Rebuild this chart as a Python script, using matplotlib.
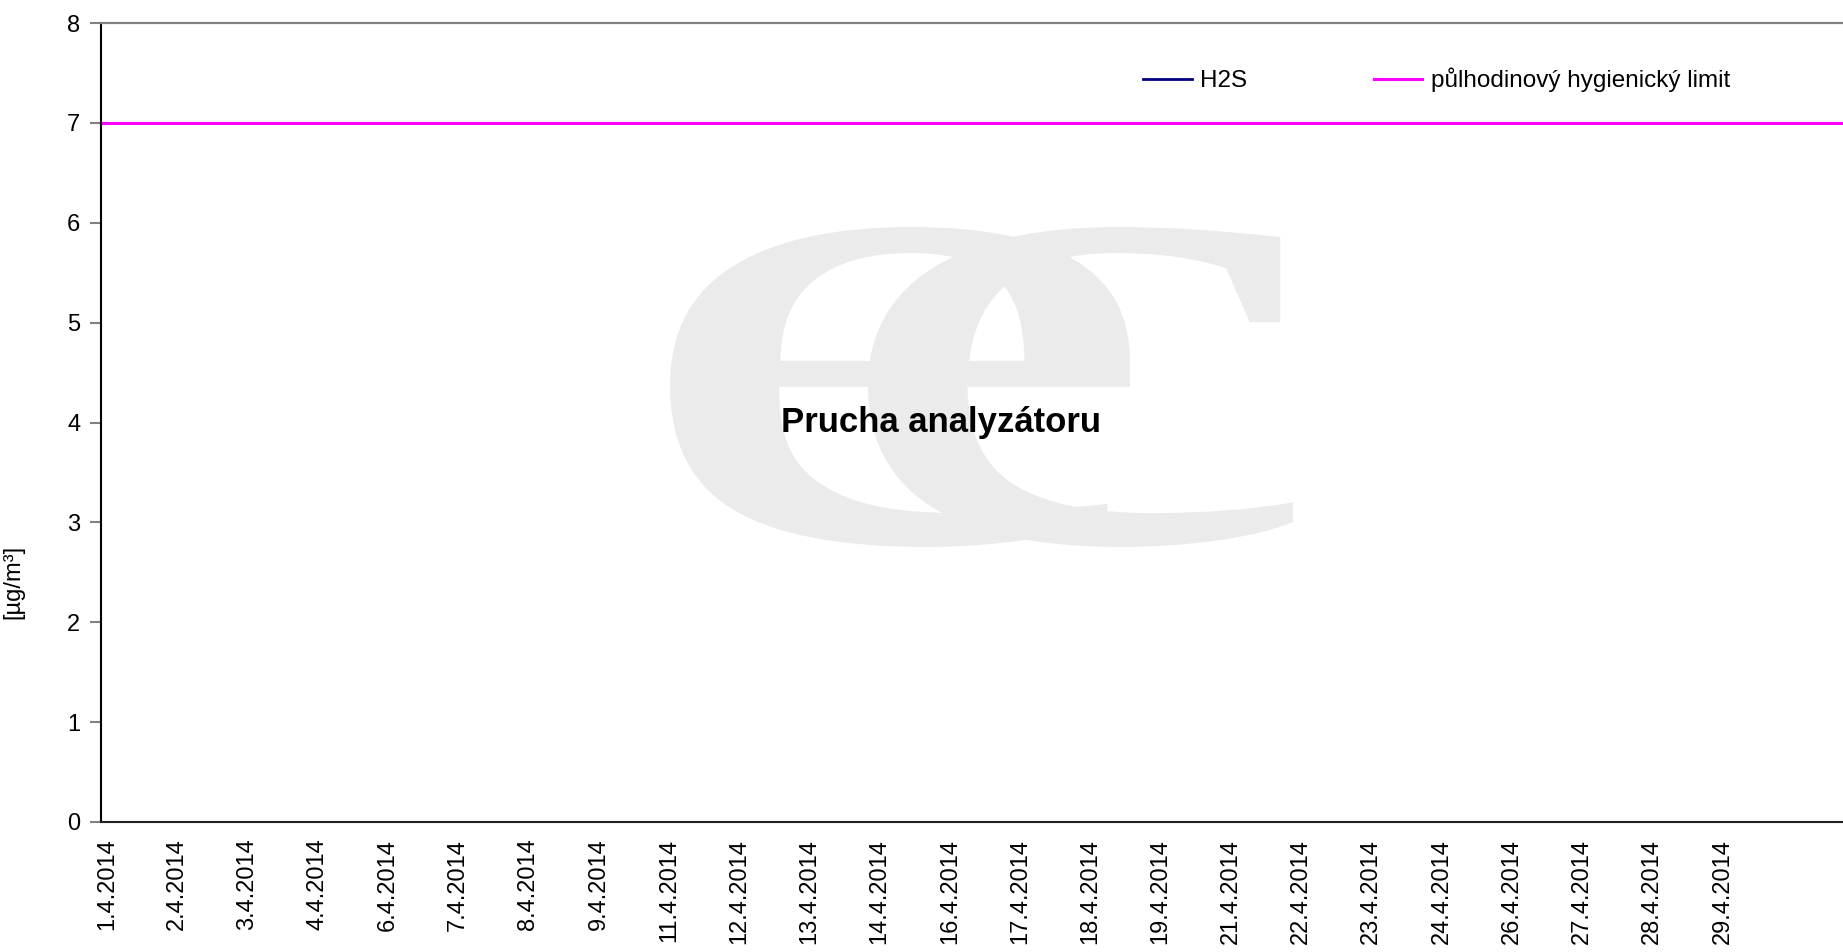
import numpy as np
import pandas as pd
import matplotlib
matplotlib.use("Agg")
import matplotlib.pyplot as plt
from matplotlib.textpath import TextPath
from matplotlib.patches import PathPatch
from matplotlib.font_manager import FontProperties
from matplotlib.transforms import Affine2D, ScaledTranslation

plt.rcParams['font.family'] = ['Liberation Sans', 'DejaVu Sans']

#============================================
# data (analyzer failure -> no H2S values in April 2014)
h2s_times = []
h2s_values = []

limit_times = ["2014-04-01 00:00", "2014-05-02 00:00"]
limit_values = [7.0, 7.0]

tick_times = ["2014-04-01 00:00", "2014-04-02 06:00", "2014-04-03 12:00", "2014-04-04 18:00",
              "2014-04-06 00:00", "2014-04-07 06:00", "2014-04-08 12:00", "2014-04-09 18:00",
              "2014-04-11 00:00", "2014-04-12 06:00", "2014-04-13 12:00", "2014-04-14 18:00",
              "2014-04-16 00:00", "2014-04-17 06:00", "2014-04-18 12:00", "2014-04-19 18:00",
              "2014-04-21 00:00", "2014-04-22 06:00", "2014-04-23 12:00", "2014-04-24 18:00",
              "2014-04-26 00:00", "2014-04-27 06:00", "2014-04-28 12:00", "2014-04-29 18:00"]
tick_labels = ["1.4.2014", "2.4.2014", "3.4.2014", "4.4.2014", "6.4.2014", "7.4.2014",
               "8.4.2014", "9.4.2014", "11.4.2014", "12.4.2014", "13.4.2014", "14.4.2014",
               "16.4.2014", "17.4.2014", "18.4.2014", "19.4.2014", "21.4.2014", "22.4.2014",
               "23.4.2014", "24.4.2014", "26.4.2014", "27.4.2014", "28.4.2014", "29.4.2014"]

x_range = ["2014-04-01 00:00", "2014-05-02 00:00"]
y_range = [0, 8]
y_ticks = [0, 1, 2, 3, 4, 5, 6, 7, 8]

series_names = ["H2S", "půlhodinový hygienický limit"]
note_text = "Prucha analyzátoru"
y_label = "[µg/m³]"
#============================================

W, H = 1843, 952
fig = plt.figure(figsize=(W / 100, H / 100), dpi=100)
fig.patch.set_facecolor("white")

ax = fig.add_axes([101 / W, 1 - 822 / H, 1 - 101 / W, (822 - 23) / H])
ax.set_facecolor("none")

# watermark logo "ec" in light gray, placed in figure pixels
def glyph(ch, box):
    tp = TextPath((0, 0), ch, size=1, prop=FontProperties(family="Liberation Serif"))
    ext = tp.get_extents()
    x0, y0, x1, y1 = box
    tr = Affine2D().translate(-ext.x0, -ext.y0).scale((x1 - x0) / ext.width, (y1 - y0) / ext.height) \
        .translate(x0, H - y1).scale(1 / W, 1 / H)
    p = PathPatch(tr.transform_path(tp), facecolor="#ebebeb", edgecolor="none",
                  transform=fig.transFigure, zorder=0, clip_on=False)
    ax.add_patch(p)

glyph("e", (670, 227, 1130, 547))
glyph("c", (868, 227, 1293, 547))

h2s_x = pd.to_datetime(h2s_times)
lim_x = pd.to_datetime(limit_times)
ax.plot(h2s_x, h2s_values, color="#000080", lw=2, label=series_names[0], zorder=2)
ax.plot(lim_x, limit_values, color="#ff00ff", lw=2.2, label=series_names[1], clip_on=False, zorder=2)

ax.set_xlim(pd.to_datetime(x_range[0]), pd.to_datetime(x_range[1]))
ax.set_ylim(y_range)
ax.set_yticks(y_ticks)
ax.set_xticks(pd.to_datetime(tick_times))
ax.set_xticklabels(tick_labels, rotation=90, fontsize=17)
ax.set_xticks([pd.to_datetime(x_range[0])], minor=True)
ax.tick_params(axis="x", which="major", length=0, pad=12)
ax.tick_params(axis="x", which="minor", length=7, width=1.2, color="black", direction="out")
ax.tick_params(axis="y", length=8, width=1.5, color="#808080", labelsize=17, pad=7)

shift = ScaledTranslation(6 / 100, 0, fig.dpi_scale_trans)
for lbl in ax.get_xticklabels():
    lbl.set_transform(lbl.get_transform() + shift)

ax.spines["right"].set_visible(False)
ax.spines["top"].set_color("#808080")
ax.spines["top"].set_linewidth(1.6)
ax.spines["left"].set_color("black")
ax.spines["left"].set_linewidth(1.5)
ax.spines["bottom"].set_color("#222222")
ax.spines["bottom"].set_linewidth(1.5)

ax.set_ylabel(y_label, fontsize=17)
ax.yaxis.set_label_coords(-0.044, 0.30)

ax.text(0.482, 0.5, note_text, transform=ax.transAxes, ha="center", va="center",
        fontsize=25, fontweight="bold", color="black", zorder=5)

fig.legend(loc="center left", bbox_to_anchor=(1143 / W, 1 - 80 / H), ncol=2, frameon=False,
           fontsize=17.5, handlelength=2.0, handletextpad=0.35, columnspacing=5.2,
           borderpad=0, borderaxespad=0)

fig.savefig("out.png", dpi=100, facecolor="white")
